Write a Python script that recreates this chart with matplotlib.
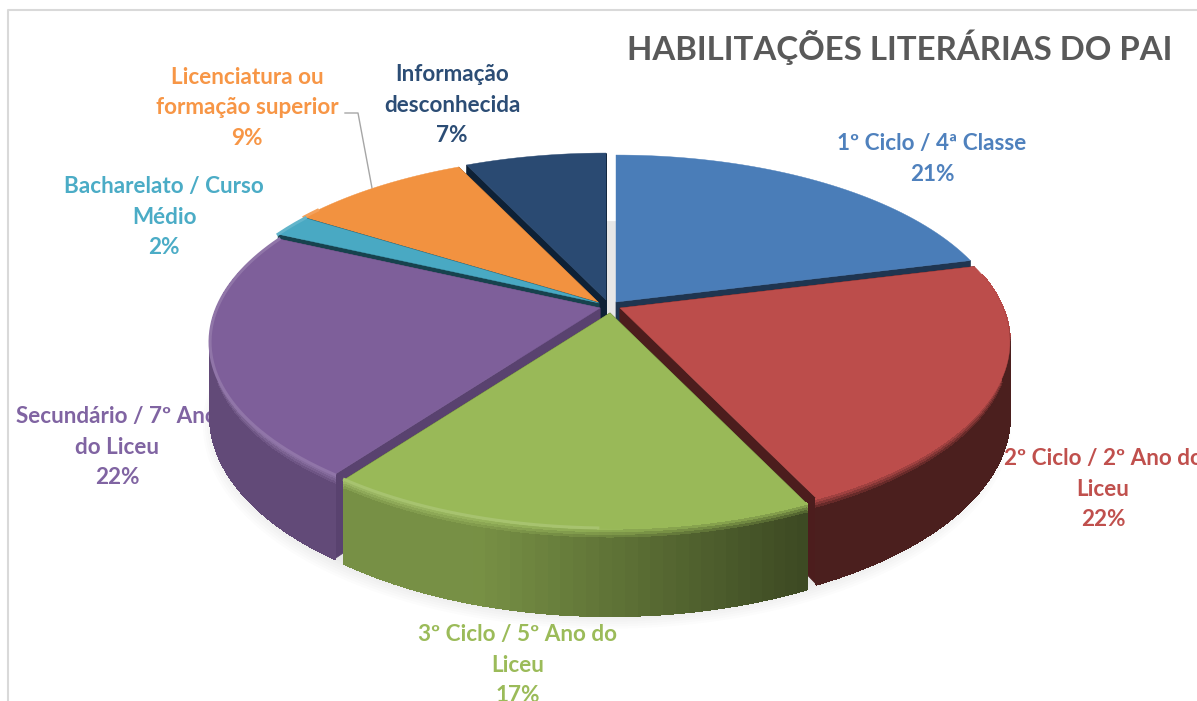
import numpy as np
import matplotlib
matplotlib.use('Agg')
import matplotlib.pyplot as plt
from matplotlib.collections import PolyCollection
from matplotlib.colors import to_rgb

title = 'HABILITAÇÕES LITERÁRIAS DO PAI'
categories = ['1º Ciclo / 4ª Classe', '2º Ciclo / 2º Ano do\nLiceu', '3º Ciclo / 5º Ano do\nLiceu',
              'Secundário / 7º Ano\ndo Liceu', 'Bacharelato / Curso\nMédio',
              'Licenciatura ou\nformação superior', 'Informação\ndesconhecida']
values = [21, 22, 17, 22, 2, 9, 7]

top_colors = ['#4a7db8', '#bc4d4b', '#99b958', '#7e5f9a', '#49a9c3', '#f29240', '#2a4a72']
face_colors = ['#1f3550', '#4c1d1d', '#4a5a28', '#59426f', '#17424e', '#7a4a20', '#0e2136']
text_colors = ['#4f81bd', '#c0504d', '#9bbb59', '#8064a2', '#4bacc6', '#f79646', '#2c4d75']

# layout, in pixels of the 1197x701 picture
CX, CY = 607, 305
RX, RY, PERSP = 383, 174.6, 0.188
DEPTH = 71.5
explode = [(9, -3), (13, 3), (3, 8), (-7, 3), (-8, -2), (-9, -3), (-1, -5)]
label_pos = [(932, 159), (1103, 489), (518, 665), (117, 447), (164, 217), (247, 108), (452, 105)]
draw_order = [6, 5, 4, 0, 3, 1, 2]

plt.rcParams['font.family'] = ['Lato', 'DejaVu Sans']

fig = plt.figure(figsize=(11.97, 7.01), dpi=100)
ax = fig.add_axes([0, 0, 1, 1])
ax.set_xlim(0, 1197)
ax.set_ylim(701, 0)
ax.axis('off')


def project(theta, drop=0.0, scale=1.0):
    # theta in radians, clockwise from the back of the pie
    u = np.sin(theta) * scale
    v = np.cos(theta) * scale
    d = 1 + PERSP * v
    return RX * u / d, -RY * v / d + drop * DEPTH / d


def mix(a, b, t):
    return tuple(np.array(to_rgb(a)) * (1 - t) + np.array(to_rgb(b)) * t)


def wall_shade(theta):
    return np.clip(0.63 - 0.55 * np.sin(theta), 0.4, 0.78)


# soft shadow under the pie
ring = np.linspace(0, 2 * np.pi, 361)
for s in np.linspace(1.035, 1.0, 8):
    x, y = project(ring, 1.05 + (s - 1) * 2, s)
    ax.fill(CX + x, CY + y, color='#000000', alpha=0.013, lw=0, zorder=1)

# border of the chart area
ax.plot([8, 8, 1197], [701, 10, 10], color='#d9d9d9', lw=1.5, zorder=1)

ax.text(900, 47, title, color='#595959', fontsize=23.8, fontweight='bold', ha='center', va='center', zorder=2)

for cat, val, col, (lx, ly) in zip(categories, values, text_colors, label_pos):
    ax.text(lx, ly, cat + '\n' + str(val) + '%', color=col, fontsize=16.2, fontweight='bold',
            ha='center', va='center', multialignment='center', linespacing=1.53, zorder=2)

# leader line of the orange label
ax.plot([345, 358, 372], [113, 113, 188], color='#a6a6a6', lw=1, zorder=2)

edges = np.cumsum([0] + values) / sum(values) * 2 * np.pi
z = 5
for i in draw_order:
    th = np.linspace(edges[i], edges[i + 1], max(int(np.degrees(edges[i + 1] - edges[i]) / 1.5), 2))
    ox = CX + explode[i][0]
    oy = CY + explode[i][1]
    top = top_colors[i]

    # both cut faces
    for a in (edges[i], edges[i + 1]):
        ex, ey = project(a)
        bx, by = project(a, 1.0)
        ax.fill([ox, ox + ex, ox + bx, ox], [oy, oy + ey, oy + by, oy + DEPTH],
                color=face_colors[i], lw=0.5, zorder=z)

    # outer wall, with a lit lip on its upper edge
    lips = [0, 0.03, 0.06, 0.09, 0.12, 1.0]
    for k in range(len(lips) - 1):
        x0, y0 = project(th, lips[k])
        x1, y1 = project(th, lips[k + 1])
        quads = []
        cols = []
        for j in range(len(th) - 1):
            if np.cos(th[j]) > 0.2:
                continue
            quads.append([(ox + x0[j], oy + y0[j]), (ox + x0[j + 1], oy + y0[j + 1]),
                          (ox + x1[j + 1], oy + y1[j + 1]), (ox + x1[j], oy + y1[j])])
            s = np.sin(th[j])
            wall = mix('#000000', top, wall_shade(th[j]))
            lit = mix(top, '#ffffff', 0.2 * max(0.0, -s + 0.1)) if s < 0.1 else top
            cols.append(mix(lit, wall, k / (len(lips) - 2)))
        ax.add_collection(PolyCollection(quads, facecolors=cols, edgecolors=cols, linewidths=0.8,
                                         antialiased=False, zorder=z))

    # top surface
    x, y = project(th)
    ax.fill(np.r_[ox, ox + x], np.r_[oy, oy + y], color=top, lw=0.3, zorder=z + 0.5)

    # rim light along the front left of the top
    keep = (np.sin(th) < 0) & (np.cos(th) < 0.6)
    if keep.any():
        ax.plot(ox + x[keep], oy + y[keep], color=mix(top, '#ffffff', 0.14), lw=2.2, zorder=z + 0.6)
    z += 1

fig.savefig('out.png', dpi=100)
